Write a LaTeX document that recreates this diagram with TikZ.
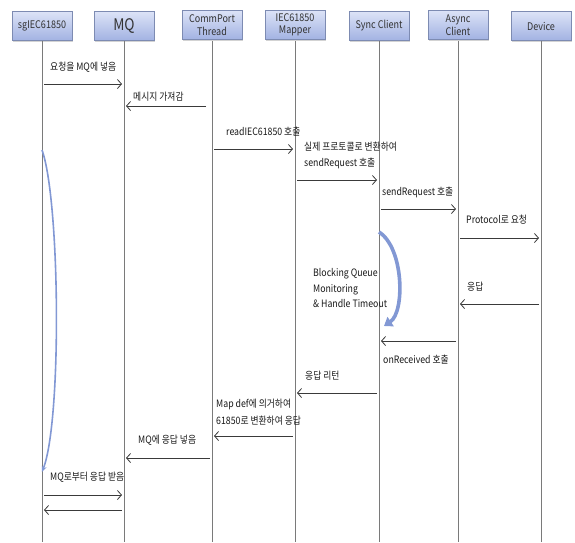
\documentclass[tikz,border=0pt]{standalone}
\usepackage{fontspec}
\setmainfont{Noto Sans CJK KR}[FakeStretch=0.86]
\usetikzlibrary{arrows.meta,shadows}

\definecolor{boxtop}{HTML}{DCE3F7}
\definecolor{boxbot}{HTML}{A2B2E2}
\definecolor{boxline}{HTML}{7D8BB2}
\definecolor{lifegray}{HTML}{7A7A7A}
\definecolor{msggray}{HTML}{3A3A3A}
\definecolor{loopblue}{HTML}{8298D4}

\begin{document}
\begin{tikzpicture}[x=1pt,y=-1pt,
  actor/.style={draw=boxline, line width=0.7pt, top color=boxtop, bottom color=boxbot,
    minimum width=60pt, minimum height=29pt, inner sep=1pt, align=center,
    font=\fontsize{10.5}{11}\selectfont, text=black!80,
    drop shadow={shadow xshift=1.2pt, shadow yshift=-1.6pt, opacity=0.35}},
  twoline/.style={font=\fontsize{10.5}{12.5}\selectfont},
  lifeline/.style={draw=lifegray, line width=0.7pt},
  msg/.style={draw=msggray, line width=0.8pt, -{Straight Barb[length=4pt,width=9pt]},
    shorten <=2pt, shorten >=2pt},
  lbl/.style={anchor=west, inner sep=0pt, align=left, text=black!90,
    font=\fontsize{10.2}{16}\selectfont},
  selfloop/.style={draw=loopblue, line width=1.6pt, -{Stealth[length=6pt,width=5pt]}},
]
\useasboundingbox (0,0) rectangle (575,542);

% participants
\node[actor] (sg) at (42,26) {sgIEC61850};
\node[actor, font=\fontsize{16}{16}\selectfont] (mq) at (124,26) {MQ};
\node[actor, twoline] (cp) at (212,25) {CommPort\\Thread};
\node[actor, twoline] (map) at (295,25) {IEC61850\\Mapper};
\node[actor] (sync) at (379,26) {Sync Client};
\node[actor, twoline] (async) at (458,25) {Async\\Client};
\node[actor] (dev) at (541,26) {Device};

% lifelines
\foreach \n in {sg,mq,cp,map,sync,async,dev}{
  \coordinate (\n-end) at (\n |- 0,542);
  \draw[lifeline] (\n |- 0,41) -- (\n-end);
}

% messages
\draw[msg] (sg |- 0,84) -- (mq |- 0,84);
\node[lbl] (l1) at (50,67) {요청을 MQ에 넣음};

\draw[msg, shorten <=6pt] (cp |- 0,106) -- (mq |- 0,106);
\node[lbl] (l2) at (133,97) {메시지 가져감};

\draw[msg] (cp |- 0,149) -- (map |- 0,149);
\node[lbl] (l3) at (226,132) {readIEC61850 호출};

\draw[msg] (map |- 0,180) -- (sync |- 0,180);
\node[lbl] (l4) at (304,155) {실제 프로토콜로 변환하여\\sendRequest 호출};

\draw[msg] (sync |- 0,209) -- (async |- 0,209);
\node[lbl] (l5) at (382,192) {sendRequest 호출};

\draw[msg] (async |- 0,238) -- (dev |- 0,238);
\node[lbl] (l6) at (466,220) {Protocol로 요청};

\draw[msg] (dev |- 0,304) -- (async |- 0,304);
\node[lbl] (l7) at (467,287) {응답};

% waiting loop on the sync client
\coordinate (syncA) at (sync |- 0,232);
\coordinate (syncB) at (384,326);
\draw[draw=loopblue, line width=3.6pt, -{Triangle[length=8pt,width=11pt]}]
  (syncA) .. controls (404,248) and (405,312) .. (syncB);
\node[lbl, font=\fontsize{10.2}{15.5}\selectfont] (l8) at (313,288)
  {Blocking Queue\\Monitoring\\\& Handle Timeout};

\draw[msg] (async |- 0,341) -- (sync |- 0,341);
\node[lbl] (l9) at (383,360) {onReceived 호출};

\draw[msg] (sync |- 0,393) -- (map |- 0,393);
\node[lbl] (l10) at (305,376) {응답 리턴};

\draw[msg] (map |- 0,436) -- (cp |- 0,436);
\node[lbl, font=\fontsize{10.2}{17}\selectfont] (l11) at (216,412)
  {Map def에 의거하여\\61850로 변환하여 응답};

\draw[msg] (cp |- 0,458) -- (mq |- 0,458);
\node[lbl] (l12) at (138,440) {MQ에 응답 넣음};

\draw[msg] (sg |- 0,495) -- (mq |- 0,495);
\node[lbl] (l13) at (50,477) {MQ로부터 응답 받음};

\draw[msg] (mq |- 0,510) -- (sg |- 0,510);

% waiting loop on sgIEC61850
\coordinate (sgA) at (sg |- 0,150);
\coordinate (sgB) at (sg |- 0,472);
\draw[selfloop] (sgA) .. controls (60,200) and (62,420) .. (sgB);

\end{tikzpicture}
\end{document}
